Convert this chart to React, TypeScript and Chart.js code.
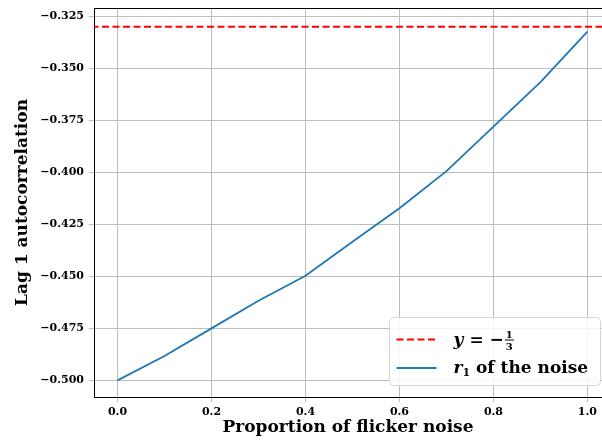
import React, { useEffect, useRef } from 'react';
import { Chart, registerables } from 'chart.js';

Chart.register(...registerables);

// ---- data ----
const proportions = [0, 0.1, 0.2, 0.3, 0.4, 0.5, 0.6, 0.7, 0.8, 0.9, 1.0];
const r1Values = [-0.5, -0.4883, -0.475, -0.4617, -0.4497, -0.4334, -0.4173, -0.3994, -0.378, -0.3566, -0.3324];
const referenceY = -0.33;
const referenceX = [-0.1, 1.2];
const xTicks = [0, 0.2, 0.4, 0.6, 0.8, 1.0];
const yTicks = [-0.5, -0.475, -0.45, -0.425, -0.4, -0.375, -0.35, -0.325];
const xRange = [-0.05, 1.031];
const yRange = [-0.508, -0.321];

const SERIF = '"DejaVu Serif", serif';
const GRID = '#bdbdbd';

const mplPlugin = {
  id: 'mplDecor',
  afterDraw(chart: any) {
    const { ctx, chartArea } = chart;
    ctx.save();
    // top spine
    ctx.strokeStyle = '#000';
    ctx.lineWidth = 1;
    ctx.beginPath();
    ctx.moveTo(chartArea.left, chartArea.top + 0.5);
    ctx.lineTo(chartArea.right, chartArea.top + 0.5);
    ctx.stroke();

    // legend
    const w = 211, h = 68;
    const x = chartArea.right - w - 1.5;
    const y = chartArea.bottom - h - 11.5;
    const r = 4;
    ctx.beginPath();
    ctx.moveTo(x + r, y);
    ctx.lineTo(x + w - r, y);
    ctx.quadraticCurveTo(x + w, y, x + w, y + r);
    ctx.lineTo(x + w, y + h - r);
    ctx.quadraticCurveTo(x + w, y + h, x + w - r, y + h);
    ctx.lineTo(x + r, y + h);
    ctx.quadraticCurveTo(x, y + h, x, y + h - r);
    ctx.lineTo(x, y + r);
    ctx.quadraticCurveTo(x, y, x + r, y);
    ctx.closePath();
    ctx.fillStyle = 'rgba(255,255,255,0.85)';
    ctx.fill();
    ctx.strokeStyle = '#d6d6d6';
    ctx.stroke();

    const row1 = y + 22;
    const row2 = y + 50.5;
    // red dashed sample
    ctx.strokeStyle = '#ff0000';
    ctx.lineWidth = 2;
    ctx.setLineDash([7, 3.5]);
    ctx.beginPath();
    ctx.moveTo(x + 7, row1);
    ctx.lineTo(x + 47, row1);
    ctx.stroke();
    ctx.setLineDash([]);
    // blue sample
    ctx.strokeStyle = '#1f77b4';
    ctx.lineWidth = 1.8;
    ctx.beginPath();
    ctx.moveTo(x + 7, row2);
    ctx.lineTo(x + 47, row2);
    ctx.stroke();

    ctx.fillStyle = '#000';
    ctx.textBaseline = 'alphabetic';
    ctx.textAlign = 'left';
    let tx = x + 64;
    // y = -1/3
    ctx.font = `italic bold 17px ${SERIF}`;
    ctx.fillText('y', tx, row1 + 5);
    tx += ctx.measureText('y').width + 6;
    ctx.font = `bold 17px ${SERIF}`;
    ctx.fillText('=', tx, row1 + 5);
    tx += ctx.measureText('=').width + 6;
    ctx.fillText('\u2212', tx, row1 + 5);
    tx += ctx.measureText('\u2212').width + 1;
    ctx.font = `bold 10px ${SERIF}`;
    const fw = ctx.measureText('1').width;
    ctx.textAlign = 'center';
    ctx.fillText('1', tx + fw / 2 + 1, row1 - 2);
    ctx.fillText('3', tx + fw / 2 + 1, row1 + 10);
    ctx.fillRect(tx, row1, fw + 2, 1);
    ctx.textAlign = 'left';

    // r1 of the noise
    tx = x + 64;
    ctx.font = `italic bold 17px ${SERIF}`;
    ctx.fillText('r', tx, row2 + 5);
    tx += ctx.measureText('r').width;
    ctx.font = `bold 11px ${SERIF}`;
    ctx.fillText('1', tx, row2 + 8);
    tx += ctx.measureText('1').width;
    ctx.font = `bold 17px ${SERIF}`;
    ctx.fillText(' of the noise', tx, row2 + 5);
    ctx.restore();
  },
};

export default function App() {
  const canvasRef = useRef<HTMLCanvasElement | null>(null);

  useEffect(() => {
    const canvas = canvasRef.current;
    if (!canvas) return;
    const chart = new Chart(canvas, {
      type: 'line',
      data: {
        datasets: [
          {
            label: 'y = -1/3',
            data: referenceX.map((x) => ({ x, y: referenceY })),
            borderColor: '#ff0000',
            borderWidth: 2,
            borderDash: [7, 3.5],
            pointRadius: 0,
            tension: 0,
          },
          {
            label: 'r1 of the noise',
            data: proportions.map((x, i) => ({ x, y: r1Values[i] })),
            borderColor: '#1f77b4',
            borderWidth: 1.8,
            pointRadius: 0,
            tension: 0,
          },
        ],
      },
      options: {
        animation: false,
        responsive: false,
        layout: { padding: { top: 8, left: 0, right: 0, bottom: 0 } },
        plugins: {
          legend: { display: false },
          tooltip: { enabled: false },
        },
        scales: {
          x: {
            type: 'linear',
            min: xRange[0],
            max: xRange[1],
            afterBuildTicks: (s: any) => {
              s.ticks = xTicks.map((v) => ({ value: v }));
            },
            afterFit: (s: any) => {
              s.height = 46;
              s.paddingLeft = 0;
              s.paddingRight = 0;
            },
            grid: { color: GRID, tickColor: GRID, tickLength: 5, lineWidth: 1 },
            border: { color: '#000', width: 1 },
            ticks: {
              color: '#000',
              padding: 4,
              maxRotation: 0,
              font: { family: SERIF, size: 11, weight: 'bold' },
              callback: (v: any) => Number(v).toFixed(1),
            },
            title: {
              display: true,
              text: 'Proportion of flicker noise',
              color: '#000',
              font: { family: SERIF, size: 17, weight: 'bold' },
              padding: { top: 0, bottom: 5 },
            },
          },
          y: {
            type: 'linear',
            min: yRange[0],
            max: yRange[1],
            afterBuildTicks: (s: any) => {
              s.ticks = yTicks.map((v) => ({ value: v }));
            },
            afterFit: (s: any) => {
              s.width = 94;
              s.paddingTop = 0;
              s.paddingBottom = 0;
            },
            grid: { color: GRID, tickColor: GRID, tickLength: 5, lineWidth: 1 },
            border: { color: '#000', width: 1 },
            ticks: {
              color: '#000',
              padding: 5,
              font: { family: SERIF, size: 11, weight: 'bold' },
              callback: (v: any) => '\u2212' + Math.abs(Number(v)).toFixed(3),
            },
            title: {
              display: true,
              text: 'Lag 1 autocorrelation',
              color: '#000',
              font: { family: SERIF, size: 17, weight: 'bold' },
              padding: { top: 12, bottom: 0 },
            },
          },
        },
      },
      plugins: [mplPlugin],
    } as any);
    return () => chart.destroy();
  }, []);

  return (
    <div style={{ position: 'fixed', left: 0, top: 0, width: 602, height: 443, background: '#fff' }}>
      <canvas ref={canvasRef} width={602} height={443} style={{ display: 'block' }} />
    </div>
  );
}
